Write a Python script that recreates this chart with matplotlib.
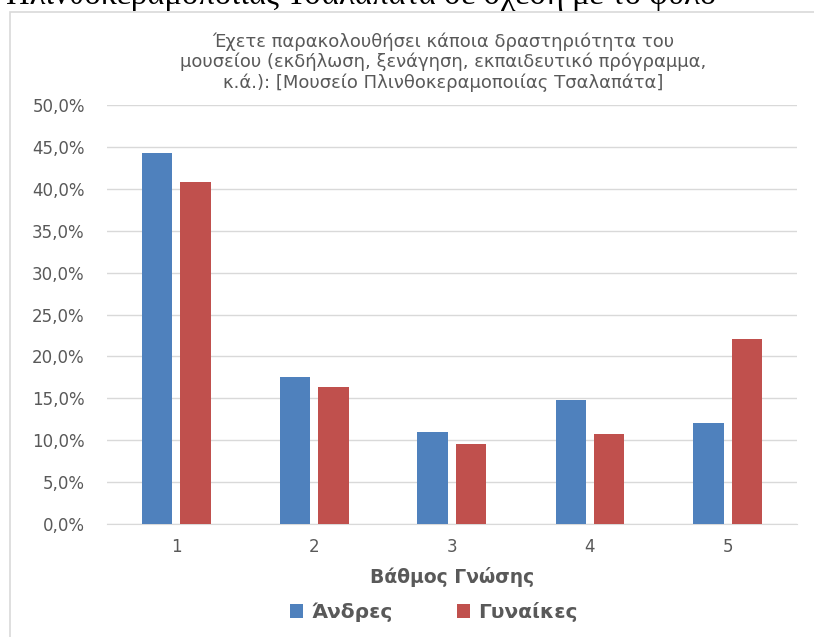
import numpy as np
import matplotlib
matplotlib.use('Agg')
import matplotlib.pyplot as plt
from matplotlib.patches import Rectangle
from matplotlib.ticker import FuncFormatter

# data
categories = ['1', '2', '3', '4', '5']
men = [44.3, 17.6, 11.0, 14.8, 12.0]
women = [40.8, 16.4, 9.6, 10.7, 22.1]
series_names = ['Άνδρες', 'Γυναίκες']
title = ('Έχετε παρακολουθήσει κάποια δραστηριότητα του\n'
         'μουσείου (εκδήλωση, ξενάγηση, εκπαιδευτικό πρόγραμμα,\n'
         'κ.ά.): [Μουσείο Πλινθοκεραμοποιίας Τσαλαπάτα]')
page_text = 'Πλινθοκεραμοποιίας Τσαλαπάτα σε σχέση με το φύλο'

plt.rcParams['font.family'] = ['DejaVu Sans']
grey = '#595959'

W, H = 814, 637
fig = plt.figure(figsize=(W / 100, H / 100), dpi=100)
fig.patch.set_facecolor('white')

# cut-off line of the surrounding document
fig.text(6 / W, 1 - 4 / H, page_text, family='Liberation Serif',
         fontsize=23.5, color='black', ha='left', va='baseline')

# chart frame
fig.patches.append(Rectangle((10 / W, -0.05), 1.0, 1 - 12 / H + 0.05,
                             transform=fig.transFigure, fill=False,
                             edgecolor='#d9d9d9', linewidth=1.2))

ax = fig.add_axes([107 / W, 1 - 524 / H, 690 / W, (524 - 105) / H])
x = np.arange(len(categories))
w = 0.22
ax.bar(x - 0.14, np.array(men) / 100, w, color='#4f81bd', label=series_names[0], zorder=3)
ax.bar(x + 0.14, np.array(women) / 100, w, color='#c0504d', label=series_names[1], zorder=3)

ax.set_xlim(-0.5, 4.5)
ax.set_ylim(0, 0.5)
ax.set_yticks(np.arange(0, 0.51, 0.05))
ax.yaxis.set_major_formatter(FuncFormatter(lambda v, p: f'{v * 100:.1f}%'.replace('.', ',')))
ax.set_xticks(x)
ax.set_xticklabels(categories)
ax.grid(axis='y', color='#d9d9d9', linewidth=1, zorder=0)
for s in ['top', 'right', 'left']:
    ax.spines[s].set_visible(False)
ax.spines['bottom'].set_color('#d9d9d9')
ax.tick_params(axis='both', length=0, colors=grey, labelsize=12)
ax.tick_params(axis='y', pad=16)
ax.tick_params(axis='x', pad=10)

ax.set_xlabel('Βάθμος Γνώσης', color=grey, fontsize=13.5, fontweight='bold', labelpad=8)

fig.text(443 / W, 1 - 62 / H, title, ha='center', va='center', color=grey,
         fontsize=13, linespacing=1.15)

ax.legend(loc='center', bbox_to_anchor=(434 / W, 1 - 612 / H),
          bbox_transform=fig.transFigure, ncol=2, frameon=False,
          handlelength=0.65, handleheight=0.65, handletextpad=0.4, columnspacing=3.2,
          prop={'size': 14.5, 'weight': 'bold'}, labelcolor=grey)

fig.savefig('out.png', dpi=100)
